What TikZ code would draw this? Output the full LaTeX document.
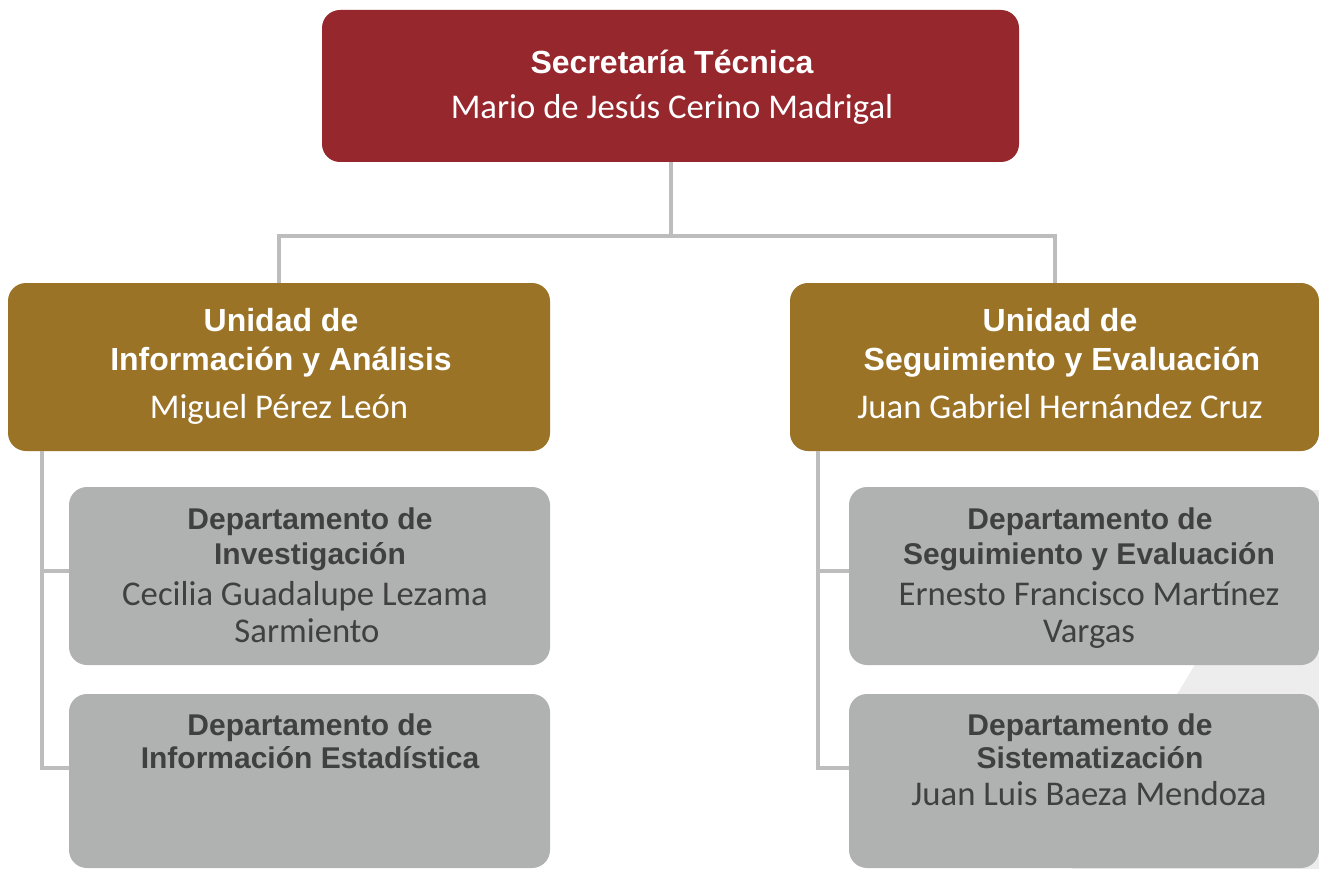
\documentclass[tikz,border=0pt]{standalone}
\usepackage{fontspec}
\setmainfont{Carlito}
\newfontfamily\headfont{Liberation Sans}
\definecolor{redbox}{HTML}{96272D}
\definecolor{goldbox}{HTML}{9A7327}
\definecolor{graybox}{HTML}{B0B2B1}
\definecolor{linegray}{HTML}{BDBDBD}
\definecolor{darktext}{HTML}{404040}
\definecolor{bgband}{HTML}{EDEDED}
\tikzset{
  box/.style={rectangle, rounded corners=18pt, inner sep=0pt, draw=none},
  redstyle/.style={box, fill=redbox},
  goldstyle/.style={box, fill=goldbox},
  graystyle/.style={box, fill=graybox},
  conn/.style={draw=linegray, line width=4pt},
  bigtitle/.style={anchor=base, inner sep=0pt, text=white, font=\headfont\bfseries\fontsize{32}{36}\selectfont},
  bigname/.style={anchor=base, inner sep=0pt, text=white, font=\fontsize{34.7}{40}\selectfont},
  smalltitle/.style={anchor=base, inner sep=0pt, text=darktext, font=\headfont\bfseries\fontsize{30}{34}\selectfont},
  smallname/.style={anchor=base, inner sep=0pt, text=darktext, font=\fontsize{34.7}{40}\selectfont},
}
\begin{document}
\begin{tikzpicture}[x=1pt,y=-1pt]
\useasboundingbox (0,0) rectangle (1319,869);
\fill[white] (0,0) rectangle (1319,869);
\fill[bgband] (1300,490) -- (1319,490) -- (1319,869) -- (1072,869) -- cycle;

% boxes
\node[redstyle, minimum width=697pt, minimum height=152pt] (st) at (670.5,86) {};
\node[goldstyle, minimum width=542pt, minimum height=168pt] (ua) at (279,367) {};
\node[goldstyle, minimum width=529pt, minimum height=168pt] (ub) at (1054.5,367) {};
\node[graystyle, minimum width=481pt, minimum height=178pt] (da1) at (309.5,576) {};
\node[graystyle, minimum width=481pt, minimum height=174pt] (da2) at (309.5,781) {};
\node[graystyle, minimum width=470pt, minimum height=178pt] (db1) at (1084,576) {};
\node[graystyle, minimum width=470pt, minimum height=174pt] (db2) at (1084,781) {};

% connectors
\coordinate (hub) at (670.5,236);
\draw[conn] (st.south) -- (hub);
\draw[conn] (hub) -| (ua.north);
\draw[conn] (hub) -| (ub.north);
\coordinate (la) at (42,451);
\coordinate (lb) at (818,451);
\draw[conn] (la) |- ([yshift=5pt]da1.west);
\draw[conn] (la) |- ([yshift=13pt]da2.west);
\draw[conn] (lb) |- ([yshift=5pt]db1.west);
\draw[conn] (lb) |- ([yshift=13pt]db2.west);

% texts
\node[bigtitle] (t1) at (672,74) {Secretaría Técnica};
\node[bigname] (n1) at (672,119) {Mario de Jesús Cerino Madrigal};

\node[bigtitle] (t2a) at (281,331) {Unidad de};
\node[bigtitle] (t2b) at (281,370) {Información y Análisis};
\node[bigname] (n2) at (279,418) {Miguel Pérez León};

\node[bigtitle] (t3a) at (1060,331) {Unidad de};
\node[bigtitle] (t3b) at (1062,370) {Seguimiento y Evaluación};
\node[bigname] (n3) at (1060,418) {Juan Gabriel Hernández Cruz};

\node[smalltitle] (t4a) at (310,529) {Departamento de};
\node[smalltitle] (t4b) at (310,564) {Investigación};
\node[smallname] (n4a) at (305,605) {Cecilia Guadalupe Lezama};
\node[smallname] (n4b) at (307,642) {Sarmiento};

\node[smalltitle] (t5a) at (310,735) {Departamento de};
\node[smalltitle] (t5b) at (310,768) {Información Estadística};

\node[smalltitle] (t6a) at (1090,529) {Departamento de};
\node[smalltitle] (t6b) at (1089,564) {Seguimiento y Evaluación};
\node[smallname] (n6a) at (1089,605) {Ernesto Francisco Martínez};
\node[smallname] (n6b) at (1089,642) {Vargas};

\node[smalltitle] (t7a) at (1090,735) {Departamento de};
\node[smalltitle] (t7b) at (1090,768) {Sistematización};
\node[smallname] (n7) at (1089,805) {Juan Luis Baeza Mendoza};
\end{tikzpicture}
\end{document}
